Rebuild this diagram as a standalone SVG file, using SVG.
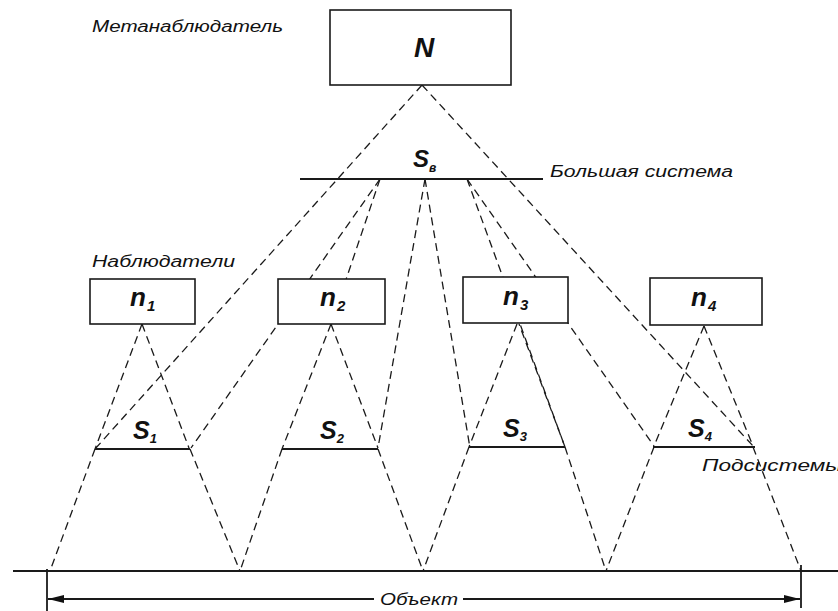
<svg xmlns="http://www.w3.org/2000/svg" width="838" height="611" viewBox="0 0 838 611">
<style>
.bg{fill:#fff}
.dash{fill:none;stroke:#1a1a1a;stroke-width:1.3;stroke-dasharray:8 5}
.solid{fill:none;stroke:#1a1a1a;stroke-width:1.8}
.box{fill:#fff;stroke:#1a1a1a;stroke-width:1.6}
.lbl{font-family:"Liberation Sans",Arial,sans-serif;font-weight:bold;font-style:italic;fill:#111}
.nl{font-size:26px}
.nsub{font-size:15px}
.sl{font-size:25px}
.ssub{font-size:13px}
.cap{font-family:"Liberation Sans",Arial,sans-serif;font-style:italic;font-size:16px;fill:#111}
</style>
<defs>
<marker id="arr" viewBox="0 0 16 10" refX="16" refY="5" markerWidth="16" markerHeight="10" markerUnits="userSpaceOnUse" orient="auto">
<path d="M0,1 L16,5 L0,9 Z" fill="#111"/>
</marker>
</defs>
<rect class="bg" x="0" y="0" width="838" height="611"/>

<g id="connectors">
<line class="dash" x1="422" y1="85" x2="95" y2="449"/>
<line class="dash" x1="422" y1="85" x2="753" y2="446"/>
<line class="dash" x1="380" y1="179" x2="191" y2="448"/>
<line class="dash" x1="380" y1="179" x2="331" y2="324"/>
<line class="dash" x1="425" y1="179" x2="378" y2="448"/>
<line class="dash" x1="425" y1="179" x2="470" y2="448"/>
<line class="dash" x1="467" y1="179" x2="565" y2="447"/>
<line class="dash" x1="467" y1="179" x2="654" y2="446"/>
<line class="dash" x1="142" y1="324" x2="95" y2="449"/>
<line class="dash" x1="142" y1="324" x2="189" y2="448"/>
<line class="dash" x1="331" y1="324" x2="282" y2="449"/>
<line class="dash" x1="331" y1="324" x2="378" y2="448"/>
<line class="dash" x1="517" y1="324" x2="469" y2="447"/>
<line class="dash" x1="519" y1="324" x2="565" y2="447" stroke-dashoffset="6"/>
<line class="dash" x1="704" y1="326" x2="654" y2="446"/>
<line class="dash" x1="704" y1="326" x2="753" y2="446"/>
<line class="dash" x1="95" y1="449" x2="50" y2="571"/>
<line class="dash" x1="190" y1="449" x2="240" y2="571"/>
<line class="dash" x1="282" y1="449" x2="240" y2="571"/>
<line class="dash" x1="378" y1="449" x2="423" y2="571"/>
<line class="dash" x1="469" y1="447" x2="423" y2="571"/>
<line class="dash" x1="565" y1="447" x2="606" y2="571"/>
<line class="dash" x1="654" y1="447" x2="606" y2="571"/>
<line class="dash" x1="753" y1="447" x2="801" y2="571"/>
</g>

<g id="N">
<rect class="box" x="330" y="10" width="181" height="75"/>
<text class="lbl" x="424" y="57" font-size="28" text-anchor="middle">N</text>
</g>
<text class="cap" x="92" y="32" font-size="17" textLength="191" lengthAdjust="spacingAndGlyphs">Метанаблюдатель</text>

<g id="SB">
<line class="solid" x1="300" y1="179" x2="543" y2="179"/>
<text class="lbl" x="413" y="167" font-size="24">S<tspan font-size="12" dy="5">в</tspan></text>
<text class="cap" x="550" y="177" font-size="16" textLength="183" lengthAdjust="spacingAndGlyphs">Большая система</text>
</g>

<text class="cap" x="92" y="267" font-size="17" textLength="143" lengthAdjust="spacingAndGlyphs">Наблюдатели</text>

<g id="n1">
<rect class="box" x="90" y="279" width="105" height="45"/>
<text class="lbl nl" x="130" y="306">n<tspan class="nsub" dx="1" dy="5">1</tspan></text>
</g>
<g id="n2">
<rect class="box" x="278" y="279" width="107" height="45"/>
<text class="lbl nl" x="320" y="306">n<tspan class="nsub" dx="1" dy="5">2</tspan></text>
</g>
<g id="n3">
<rect class="box" x="463" y="277" width="105" height="46"/>
<text class="lbl nl" x="503" y="305">n<tspan class="nsub" dx="1" dy="5">3</tspan></text>
</g>
<g id="n4">
<rect class="box" x="650" y="278" width="112" height="47"/>
<text class="lbl nl" x="691" y="306">n<tspan class="nsub" dx="1" dy="5">4</tspan></text>
</g>

<g id="S1">
<line class="solid" x1="95" y1="449" x2="190" y2="449" stroke-width="2"/>
<text class="lbl sl" x="133" y="439">S<tspan class="ssub" dy="4">1</tspan></text>
</g>
<g id="S2">
<line class="solid" x1="282" y1="449" x2="378" y2="449" stroke-width="2"/>
<text class="lbl sl" x="320" y="439">S<tspan class="ssub" dy="4">2</tspan></text>
</g>
<g id="S3">
<line class="solid" x1="469" y1="447" x2="565" y2="447" stroke-width="2"/>
<text class="lbl sl" x="503" y="437">S<tspan class="ssub" dy="4">3</tspan></text>
</g>
<g id="S4">
<line class="solid" x1="653" y1="447" x2="755" y2="447" stroke-width="2"/>
<text class="lbl sl" x="688" y="437">S<tspan class="ssub" dy="4">4</tspan></text>
</g>
<text class="cap" x="702" y="471" font-size="17" textLength="140" lengthAdjust="spacingAndGlyphs">Подсистемы</text>

<g id="object">
<line class="solid" x1="13" y1="571" x2="838" y2="571"/>
<line class="solid" x1="47" y1="569" x2="47" y2="611" stroke-width="1.6"/>
<line class="solid" x1="801" y1="565" x2="801" y2="608" stroke-width="1.6"/>
<line class="solid" x1="374" y1="599" x2="48" y2="599" stroke-width="1.5" marker-end="url(#arr)"/>
<line class="solid" x1="463" y1="599" x2="800" y2="599" stroke-width="1.5" marker-end="url(#arr)"/>
<text class="cap" x="380" y="605" font-size="15" textLength="78" lengthAdjust="spacingAndGlyphs">Объект</text>
</g>
</svg>
